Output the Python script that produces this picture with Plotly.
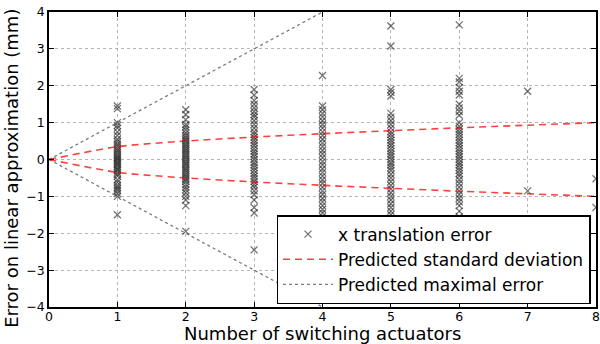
import plotly.graph_objects as go

# ---- data ----
n_actuators = [1, 2, 3, 4, 5, 6, 7, 8]
errors_by_n = {
    1: [1.45, 1.38, 1.0, 0.92, 0.85, 0.75, 0.65, 0.55, 0.48, 0.42, 0.36, 0.3, 0.25, 0.2, 0.15,
        0.1, 0.06, 0.02, -0.02, -0.06, -0.1, -0.14, -0.18, -0.22, -0.26, -0.3, -0.35, -0.4,
        -0.45, -0.55, -0.62, -0.7, -0.75, -0.8, -0.85, -0.92, -1.0, -1.5],
    2: [1.35, 1.22, 1.08, 0.95, 0.88, 0.8, 0.72, 0.65, 0.6, 0.55, 0.5, 0.45, 0.4, 0.35, 0.3,
        0.25, 0.2, 0.15, 0.1, 0.05, 0.0, -0.05, -0.1, -0.15, -0.2, -0.25, -0.3, -0.35, -0.4,
        -0.45, -0.5, -0.55, -0.6, -0.68, -0.75, -0.82, -0.9, -1.0, -1.1, -1.25, -1.95],
    3: [1.9, 1.75, 1.6, 1.5, 1.4, 1.3, 1.22, 1.15, 1.05, 0.95, 0.85, 0.75, 0.68, 0.6, 0.52,
        0.45, 0.38, 0.3, 0.22, 0.15, 0.08, 0.0, -0.08, -0.15, -0.22, -0.3, -0.38, -0.45,
        -0.52, -0.6, -0.68, -0.75, -0.85, -0.95, -1.1, -1.3, -1.45, -2.45],
    4: [2.28, 1.45, 1.35, 1.25, 1.15, 1.05, 0.95, 0.85, 0.75, 0.65, 0.55, 0.45, 0.35, 0.25,
        0.15, 0.05, -0.05, -0.15, -0.25, -0.35, -0.45, -0.55, -0.65, -0.75, -0.85, -0.95,
        -1.05, -1.15, -1.25, -1.35, -1.45, -1.55, -1.65, -1.8, -2.0],
    5: [3.62, 3.08, 1.9, 1.82, 1.72, 1.25, 1.15, 1.05, 0.95, 0.85, 0.75, 0.68, 0.6, 0.52,
        0.45, 0.38, 0.3, 0.22, 0.15, 0.08, 0.0, -0.08, -0.15, -0.22, -0.3, -0.4, -0.5, -0.6,
        -0.7, -0.8, -0.9, -1.0, -1.1, -1.2, -1.3, -1.4, -1.5, -1.6, -1.8],
    6: [3.65, 2.2, 2.1, 1.95, 1.85, 1.75, 1.5, 1.4, 1.3, 1.2, 1.0, 0.9, 0.82, 0.75, 0.68,
        0.6, 0.52, 0.45, 0.38, 0.3, 0.22, 0.15, 0.08, 0.0, -0.08, -0.15, -0.22, -0.3, -0.38,
        -0.45, -0.55, -0.65, -0.75, -0.85, -0.95, -1.05, -1.15, -1.25, -1.4, -1.55, -1.7],
    7: [1.85, -0.85],
    8: [-0.52, -1.3],
}
curve_n = [0, 1, 2, 3, 4, 5, 6, 7, 8]
predicted_std = [0.0, 0.35, 0.5, 0.61, 0.7, 0.78, 0.86, 0.93, 1.0]
predicted_max = [0, 1, 2, 3, 4, 5, 6, 7, 8]

x_tick_vals = [0, 1, 2, 3, 4, 5, 6, 7, 8]
y_tick_vals = [-4, -3, -2, -1, 0, 1, 2, 3, 4]

x_title = "Number of switching actuators"
y_title = "Error on linear approximation (mm)"

# ---- build figure ----
xs, ys = [], []
for n in n_actuators:
    for v in errors_by_n[n]:
        xs.append(n)
        ys.append(v)

marker_col = "rgba(40,40,40,0.65)"
fig = go.Figure()
fig.add_trace(go.Scatter(
    x=xs, y=ys, mode="markers", name="x translation error",
    marker=dict(symbol="x-thin-open", size=7, color=marker_col,
                line=dict(color=marker_col, width=1.3)),
))
fig.add_trace(go.Scatter(
    x=curve_n, y=predicted_std, mode="lines", name="Predicted standard deviation",
    line=dict(color="rgba(255,0,0,0.75)", width=1.6, dash="7px,5px", shape="spline", smoothing=0.6),
))
fig.add_trace(go.Scatter(
    x=curve_n, y=[-v for v in predicted_std], mode="lines", showlegend=False,
    line=dict(color="rgba(255,0,0,0.75)", width=1.6, dash="7px,5px", shape="spline", smoothing=0.6),
))
fig.add_trace(go.Scatter(
    x=curve_n, y=predicted_max, mode="lines", name="Predicted maximal error",
    line=dict(color="rgba(90,90,90,0.8)", width=1.3, dash="dot"),
))
fig.add_trace(go.Scatter(
    x=curve_n, y=[-v for v in predicted_max], mode="lines", showlegend=False,
    line=dict(color="rgba(90,90,90,0.8)", width=1.3, dash="dot"),
))

axis_common = dict(
    showline=True, linecolor="black", linewidth=1.5, mirror="ticks",
    ticks="inside", ticklen=5, tickcolor="black",
    showgrid=True, gridcolor="rgba(150,150,150,0.7)", griddash="dot", gridwidth=1,
    zeroline=False, tickfont=dict(size=12.5, color="black"), automargin=False,
    ticklabeloverflow="allow",
)

fig.update_layout(
    width=600, height=344,
    margin=dict(l=49, r=4, t=12, b=37),
    paper_bgcolor="white", plot_bgcolor="white",
    font=dict(family="DejaVu Sans", color="black"),
    xaxis=dict(range=[0, 8], tickvals=x_tick_vals, ticklabelstandoff=-3, **axis_common),
    yaxis=dict(range=[-4, 4], tickvals=y_tick_vals, **axis_common),
    legend=dict(x=0.99, y=0.01, xanchor="right", yanchor="bottom",
                bgcolor="white", bordercolor="black", borderwidth=1.5,
                font=dict(size=17, color="black"), tracegroupgap=0, itemwidth=50),
    showlegend=True,
    annotations=[
        dict(text=y_title, textangle=-90, showarrow=False,
             xref="paper", yref="paper", x=0, y=0.47,
             xanchor="right", yanchor="middle", xshift=-25,
             font=dict(size=18, color="black")),
        dict(text=x_title, showarrow=False,
             xref="paper", yref="paper", x=0.5, y=0,
             xanchor="center", yanchor="top", yshift=-14,
             font=dict(size=18, color="black")),
    ],
)

fig.write_html("out.html", config={"displayModeBar": False},
               post_script="document.body.style.margin='0';document.body.style.padding='0';")
